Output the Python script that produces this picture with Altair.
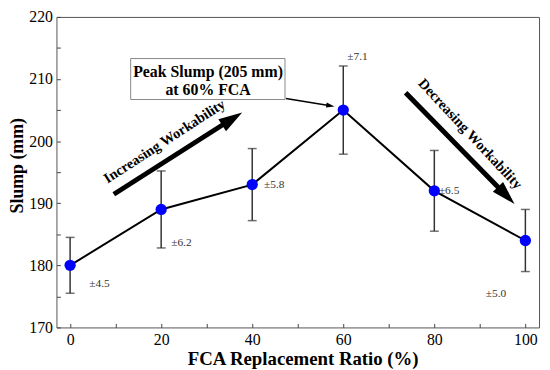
import altair as alt
import pandas as pd

# ---- data ----
ratio = [0, 20, 40, 60, 80, 100]
slump = [180, 189, 193, 205, 192, 184]
err = [4.5, 6.2, 5.8, 7.1, 6.5, 5.0]
err_text = ["±4.5", "±6.2", "±5.8", "±7.1", "±6.5", "±5.0"]
err_lx = [4.2, 22.2, 42.6, 60.9, 81.0, 91.3]
err_ly = [177.0, 183.6, 193.0, 213.6, 192.0, 175.4]

# annotation box and its text
box_x, box_x2, box_y, box_y2 = [13.3], [47.2], [213.3], [206.7]
box_lines = ["Peak Slump (205 mm)", "at 60% FCA"]
box_line_x = [30.3, 30.3]
box_line_y = [211.1, 208.2]

# arrows: shaft start / shaft end (head centre), head angle, shaft width, head size
arr_x = [9.6, 73.7, 47.4]
arr_y = [191.45, 207.8, 206.86]
arr_x2 = [35.6, 95.8, 57.17]
arr_y2 = [203.6, 191.26, 205.7]
arr_angle = [57.4, 135.8, 99.3]
arr_width = [5, 5, 1.5]
arr_head = [576, 576, 70]

# rotated arrow labels
arr_text = ["Increasing Workability", "Decreasing Workability"]
arr_tx = [20.8, 87.8]
arr_ty = [199.9, 201.1]
arr_tangle = [327, 47]

FONT = "Liberation Serif"

df = pd.DataFrame({
    "ratio": ratio, "slump": slump,
    "lo": [s - e for s, e in zip(slump, err)],
    "hi": [s + e for s, e in zip(slump, err)],
    "label": err_text, "lx": err_lx, "ly": err_ly,
})
box_df = pd.DataFrame({"x": box_x, "x2": box_x2, "y": box_y, "y2": box_y2})
box_txt = pd.DataFrame({"t": box_lines, "x": box_line_x, "y": box_line_y})
arr_df = pd.DataFrame({"x": arr_x, "y": arr_y, "x2": arr_x2, "y2": arr_y2,
                       "angle": arr_angle, "w": arr_width, "size": arr_head})
arr_txt = pd.DataFrame({"t": arr_text, "x": arr_tx, "y": arr_ty, "a": arr_tangle})

xs = alt.Scale(domain=[-3, 103], nice=False, zero=False)
ys = alt.Scale(domain=[170, 220], nice=False, zero=False)

x_axis = alt.Axis(
    values=list(range(0, 101, 10)),
    labelExpr="datum.value % 20 === 0 ? datum.label : ''",
    domain=False, grid=False, tickSize=4, offset=-4, tickColor="#444",
    labelFont=FONT, labelFontSize=16, labelColor="black", labelPadding=4,
    title="FCA Replacement Ratio (%)", titleFont=FONT, titleFontSize=19,
    titleFontWeight="bold", titleColor="black", titleX=249, titleY=35,
    titleBaseline="middle",
)
y_axis = alt.Axis(
    values=list(range(170, 221, 5)),
    labelExpr="datum.value % 10 === 0 ? datum.label : ''",
    domain=False, grid=False, tickSize=4, offset=-4, tickColor="#444",
    labelFont=FONT, labelFontSize=16, labelColor="black", labelPadding=4,
    title="Slump (mm)", titleFont=FONT, titleFontSize=18,
    titleFontWeight="bold", titleColor="black", titleX=-43, titleY=150,
    titleBaseline="middle", titleAngle=-90,
)


def X(f):
    return alt.X(f, type="quantitative", scale=xs, axis=x_axis)


def Y(f):
    return alt.Y(f, type="quantitative", scale=ys, axis=y_axis)


line = alt.Chart(df).mark_line(color="black", strokeWidth=2).encode(x=X("ratio"), y=Y("slump"))
ebar = alt.Chart(df).mark_rule(color="#333", strokeWidth=1.5).encode(
    x=X("ratio"), y=Y("lo"), y2="hi:Q")
cap_hi = alt.Chart(df).mark_tick(orient="horizontal", size=9, thickness=1.5, color="#333").encode(
    x=X("ratio"), y=Y("hi"))
cap_lo = alt.Chart(df).mark_tick(orient="horizontal", size=9, thickness=1.5, color="#333").encode(
    x=X("ratio"), y=Y("lo"))
pts = alt.Chart(df).mark_point(filled=True, color="#0000ff", size=130, opacity=1).encode(
    x=X("ratio"), y=Y("slump"))
elab = alt.Chart(df).mark_text(font=FONT, fontSize=11.5, color="#333", align="left",
                               baseline="middle").encode(
    x=X("lx"), y=Y("ly"), text="label:N")

box = alt.Chart(box_df).mark_rect(fill="white", stroke="#888", strokeWidth=1).encode(
    x=X("x"), x2="x2:Q", y=Y("y"), y2="y2:Q")
btxt = alt.Chart(box_txt).mark_text(font=FONT, fontSize=16, fontWeight="bold", color="black",
                                    align="center", baseline="middle").encode(
    x=X("x"), y=Y("y"), text="t:N")

shaft = alt.Chart(arr_df).mark_rule(color="black").encode(
    x=X("x"), x2="x2:Q", y=Y("y"), y2="y2:Q",
    strokeWidth=alt.StrokeWidth("w:Q", scale=None))
head = alt.Chart(arr_df).mark_point(shape="M0,-1L0.6,1L-0.6,1Z", filled=True,
                                    color="black", opacity=1).encode(
    x=X("x2"), y=Y("y2"),
    angle=alt.Angle("angle:Q", scale=None), size=alt.Size("size:Q", scale=None))
atxt = alt.Chart(arr_txt).mark_text(font=FONT, fontSize=14.5, fontWeight="bold", color="black",
                                    align="center", baseline="middle").encode(
    x=X("x"), y=Y("y"), text="t:N", angle=alt.Angle("a:Q", scale=None))

chart = alt.layer(line, ebar, cap_hi, cap_lo, pts, elab, shaft, head, atxt, box, btxt).properties(
    width=488, height=314,
    background="white",
    autosize=alt.AutoSizeParams(type="none"),
    padding={"left": 49, "top": 7, "right": 3, "bottom": 40},
).configure_view(stroke="#555", strokeWidth=1)

chart.save("out.html", embed_options={"renderer": "svg", "actions": False})
